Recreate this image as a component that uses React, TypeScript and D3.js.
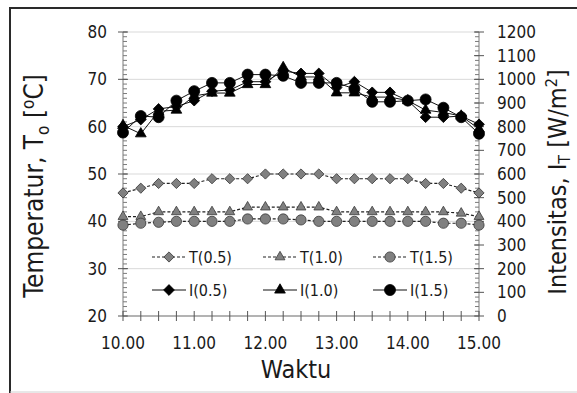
import { useEffect, useRef } from "react"
import * as d3 from "d3"

// waktu (jam), tiap 15 menit
const waktu = [10.0, 10.25, 10.5, 10.75, 11.0, 11.25, 11.5, 11.75, 12.0, 12.25, 12.5, 12.75, 13.0, 13.25, 13.5, 13.75, 14.0, 14.25, 14.5, 14.75, 15.0]

// temperatur keluaran (°C)
const tempT05 = [46, 47, 48, 48, 48, 49, 49, 49, 50, 50, 50, 50, 49, 49, 49, 49, 49, 48, 48, 47, 46]
const tempT10 = [41, 41, 42, 42, 42, 42, 42, 43, 43, 43, 43, 43, 42, 42, 42, 42, 42, 42, 42, 41.7, 41]
const tempT15 = [39.2, 39.6, 39.8, 40, 40, 40, 40, 40.5, 40.5, 40.5, 40.3, 40, 40, 40, 40, 40, 40, 40, 39.6, 39.6, 39.2]

// intensitas (W/m2)
const intensI05 = [800, 830, 875, 885, 910, 950, 955, 990, 990, 1035, 1025, 1025, 965, 990, 945, 945, 910, 840, 840, 845, 810]
const intensI10 = [805, 770, 865, 870, 930, 942, 942, 978, 978, 1050, 1010, 1010, 943, 943, 925, 925, 910, 870, 860, 845, 790]
const intensI15 = [775, 845, 840, 910, 950, 985, 985, 1020, 1020, 1015, 985, 985, 985, 960, 905, 905, 910, 915, 880, 840, 770]

const tempTicks = [20, 30, 40, 50, 60, 70, 80]
const intensTicks = [0, 100, 200, 300, 400, 500, 600, 700, 800, 900, 1000, 1100, 1200]
const waktuTicks = [10, 11, 12, 13, 14, 15]
const waktuLabels = ["10.00", "11.00", "12.00", "13.00", "14.00", "15.00"]

type Shape = "diamond" | "triangle" | "circle"
type Series = { name: string; values: number[]; axis: "L" | "R"; shape: Shape; dashed: boolean }

const series: Series[] = [
  { name: "T(0.5)", values: tempT05, axis: "L", shape: "diamond", dashed: true },
  { name: "T(1.0)", values: tempT10, axis: "L", shape: "triangle", dashed: true },
  { name: "T(1.5)", values: tempT15, axis: "L", shape: "circle", dashed: true },
  { name: "I(0.5)", values: intensI05, axis: "R", shape: "diamond", dashed: false },
  { name: "I(1.0)", values: intensI10, axis: "R", shape: "triangle", dashed: false },
  { name: "I(1.5)", values: intensI15, axis: "R", shape: "circle", dashed: false },
]

const FONT = "'DejaVu Sans Condensed', 'DejaVu Sans', sans-serif"

function symbolPath(shape: Shape, big: boolean) {
  if (shape === "diamond") return d3.symbol().type(d3.symbolSquare).size(big ? 58 : 52)()
  if (shape === "triangle") return d3.symbol().type(d3.symbolTriangle).size(big ? 50 : 42)()
  return d3.symbol().type(d3.symbolCircle).size(big ? 95 : 82)()
}

export default function App() {
  const svgRef = useRef<SVGSVGElement>(null)

  useEffect(() => {
    if (!svgRef.current) return
    const svg = d3.select(svgRef.current)
    svg.selectAll("*").remove()

    const plot = { left: 123, right: 479, top: 32, bottom: 316 }

    const x = d3.scaleLinear().domain([10, 15]).range([plot.left, plot.right])
    const yL = d3.scaleLinear().domain([20, 80]).range([plot.bottom, plot.top])
    const yR = d3.scaleLinear().domain([0, 1200]).range([plot.bottom, plot.top])

    svg.append("rect").attr("width", 577).attr("height", 393).attr("fill", "#fff")

    // bingkai
    svg.append("line").attr("x1", 10).attr("x2", 577).attr("y1", 8).attr("y2", 8).attr("stroke", "#2a2a2a").attr("stroke-width", 2)
    svg.append("line").attr("x1", 10).attr("x2", 10).attr("y1", 7).attr("y2", 393).attr("stroke", "#2a2a2a").attr("stroke-width", 2)
    svg.append("line").attr("x1", 10).attr("x2", 577).attr("y1", 392).attr("y2", 392).attr("stroke", "#d0d0d0").attr("stroke-width", 1)

    // grid
    svg.append("g")
      .selectAll("line")
      .data(tempTicks)
      .join("line")
      .attr("x1", plot.left)
      .attr("x2", plot.right)
      .attr("y1", (d) => yL(d))
      .attr("y2", (d) => yL(d))
      .attr("stroke", "#d9d9d9")
      .attr("stroke-width", 1)

    const axisColor = "#7a7a7a"

    // sumbu kiri
    const left = svg.append("g")
    left.append("line").attr("x1", plot.left).attr("x2", plot.left).attr("y1", plot.top).attr("y2", plot.bottom).attr("stroke", axisColor)
    left.selectAll(".minor")
      .data(d3.range(20, 81, 1))
      .join("line")
      .attr("x1", plot.left)
      .attr("x2", plot.left + 4)
      .attr("y1", (d) => yL(d))
      .attr("y2", (d) => yL(d))
      .attr("stroke", axisColor)
    left.selectAll(".major")
      .data(tempTicks)
      .join("line")
      .attr("x1", plot.left - 5)
      .attr("x2", plot.left + 5)
      .attr("y1", (d) => yL(d))
      .attr("y2", (d) => yL(d))
      .attr("stroke", "#555")
    left.selectAll("text")
      .data(tempTicks)
      .join("text")
      .attr("x", 107)
      .attr("y", (d) => yL(d))
      .attr("dy", "0.36em")
      .attr("text-anchor", "end")
      .style("font-family", FONT)
      .style("font-size", "17px")
      .style("fill", "#1a1a1a")
      .text((d) => d)

    // sumbu kanan
    const right = svg.append("g")
    right.append("line").attr("x1", plot.right).attr("x2", plot.right).attr("y1", plot.top).attr("y2", plot.bottom).attr("stroke", axisColor)
    right.selectAll(".minor")
      .data(d3.range(0, 1201, 20))
      .join("line")
      .attr("x1", plot.right - 4)
      .attr("x2", plot.right)
      .attr("y1", (d) => yR(d))
      .attr("y2", (d) => yR(d))
      .attr("stroke", axisColor)
    right.selectAll(".major")
      .data(intensTicks)
      .join("line")
      .attr("x1", plot.right - 5)
      .attr("x2", plot.right + 5)
      .attr("y1", (d) => yR(d))
      .attr("y2", (d) => yR(d))
      .attr("stroke", "#555")
    right.selectAll("text")
      .data(intensTicks)
      .join("text")
      .attr("x", 497)
      .attr("y", (d) => yR(d))
      .attr("dy", "0.36em")
      .style("font-family", FONT)
      .style("font-size", "17px")
      .style("fill", "#1a1a1a")
      .text((d) => d)

    // sumbu bawah
    const bottom = svg.append("g")
    bottom.append("line").attr("x1", plot.left).attr("x2", plot.right).attr("y1", plot.bottom).attr("y2", plot.bottom).attr("stroke", axisColor)
    bottom.selectAll(".major")
      .data(waktu)
      .join("line")
      .attr("x1", (d) => x(d))
      .attr("x2", (d) => x(d))
      .attr("y1", plot.bottom - 5)
      .attr("y2", plot.bottom + 5)
      .attr("stroke", "#555")
    bottom.selectAll("text")
      .data(waktuTicks)
      .join("text")
      .attr("x", (d) => x(d))
      .attr("y", 343)
      .attr("dy", "0.36em")
      .attr("text-anchor", "middle")
      .style("font-family", FONT)
      .style("font-size", "17px")
      .style("fill", "#1a1a1a")
      .text((d, i) => waktuLabels[i])

    // garis dan penanda
    series.forEach((s) => {
      const yScale = s.axis === "L" ? yL : yR
      const pts = s.values.map((v, i) => [x(waktu[i]), yScale(v)] as [number, number])
      svg.append("path")
        .attr("d", d3.line()(pts))
        .attr("fill", "none")
        .attr("stroke", s.dashed ? "#222" : "#111")
        .attr("stroke-width", s.dashed ? 1.2 : 1)
        .attr("stroke-dasharray", s.dashed ? "3,2" : null)
      svg.append("g")
        .selectAll("path")
        .data(pts)
        .join("path")
        .attr("d", symbolPath(s.shape, !s.dashed))
        .attr("transform", (p) => `translate(${p[0]},${p[1]})${s.shape === "diamond" ? " rotate(45)" : ""}`)
        .attr("fill", s.dashed ? "#808080" : "#000")
        .attr("stroke", s.dashed ? "#3a3a3a" : "#000")
        .attr("stroke-width", 0.8)
    })

    // legenda
    const legendX = [169, 280, 390]
    const legendY = [257, 290]
    series.forEach((s, i) => {
      const cx = legendX[i % 3]
      const cy = legendY[Math.floor(i / 3)]
      const g = svg.append("g")
      g.append("line")
        .attr("x1", cx - 17)
        .attr("x2", cx + 17)
        .attr("y1", cy)
        .attr("y2", cy)
        .attr("stroke", s.dashed ? "#222" : "#111")
        .attr("stroke-width", s.dashed ? 1.2 : 1)
        .attr("stroke-dasharray", s.dashed ? "3,2" : null)
      g.append("path")
        .attr("d", symbolPath(s.shape, !s.dashed))
        .attr("transform", `translate(${cx},${cy})${s.shape === "diamond" ? " rotate(45)" : ""}`)
        .attr("fill", s.dashed ? "#808080" : "#000")
        .attr("stroke", s.dashed ? "#3a3a3a" : "#000")
        .attr("stroke-width", 0.8)
      g.append("text")
        .attr("x", cx + 20)
        .attr("y", cy)
        .attr("dy", "0.36em")
        .style("font-family", FONT)
        .style("font-size", "16px")
        .style("fill", "#1a1a1a")
        .text(s.name)
    })

    // label sumbu
    const yLabel = svg.append("text")
      .attr("transform", "translate(43,186) rotate(-90)")
      .attr("text-anchor", "middle")
      .style("font-family", FONT)
      .style("font-size", "26px")
      .style("fill", "#1a1a1a")
    yLabel.append("tspan").text("Temperatur, T")
    yLabel.append("tspan").attr("dy", 6).style("font-size", "17px").text("o")
    yLabel.append("tspan").attr("dy", -6).text(" [")
    yLabel.append("tspan").attr("dy", -9).style("font-size", "17px").text("o")
    yLabel.append("tspan").attr("dy", 9).text("C]")

    const rLabel = svg.append("text")
      .attr("transform", "translate(566,182) rotate(-90)")
      .attr("text-anchor", "middle")
      .style("font-family", FONT)
      .style("font-size", "25px")
      .style("fill", "#1a1a1a")
    rLabel.append("tspan").text("Intensitas, I")
    rLabel.append("tspan").attr("dy", 4).style("font-size", "16px").text("T")
    rLabel.append("tspan").attr("dy", -4).text(" [W/m")
    rLabel.append("tspan").attr("dy", -9).style("font-size", "16px").text("2")
    rLabel.append("tspan").attr("dy", 9).text("]")

    svg.append("text")
      .attr("x", 296)
      .attr("y", 378)
      .attr("text-anchor", "middle")
      .style("font-family", FONT)
      .style("font-size", "25px")
      .style("fill", "#1a1a1a")
      .text("Waktu")
  }, [])

  return (
    <svg
      ref={svgRef}
      width={577}
      height={393}
      style={{ position: "fixed", left: 0, top: 0, display: "block" }}
    />
  )
}
